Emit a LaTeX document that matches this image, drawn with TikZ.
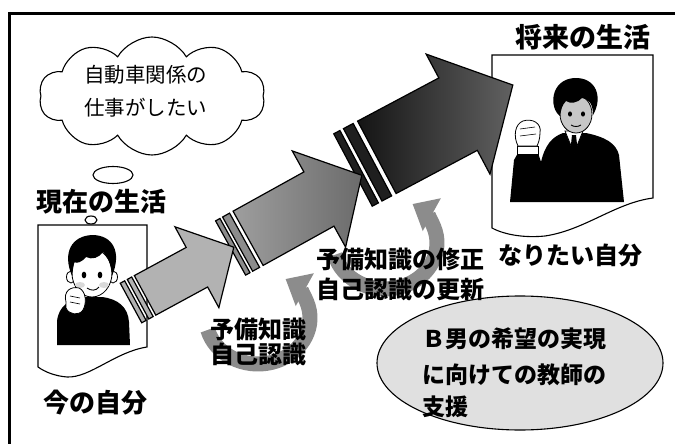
\documentclass[tikz,border=0pt]{standalone}
\usepackage{fontspec}
\newfontfamily\jp{Noto Sans CJK JP}
\usetikzlibrary{shapes.symbols,shapes.geometric,arrows.meta}

\tikzset{
  jpb/.style={font=\jp\bfseries\fontsize{#1}{#1}\selectfont, inner sep=0pt},
  jpr/.style={font=\jp\fontsize{#1}{#1}\selectfont, inner sep=0pt},
  thin line/.style={draw=black, line width=1.1},
  arrowbody/.style={draw=black, line width=1.2, line join=miter},
  band/.style={draw=black, line width=1.2},
  turn/.style={draw=black!45, line width=15, -{Triangle[width=36pt,length=22pt]}},
  picframe/.style={draw=black, fill=white, line width=1.1},
}

\begin{document}
\begin{tikzpicture}[x=1pt,y=-1pt]
\useasboundingbox (0,0) rectangle (675,444);
\fill[white] (0,0) rectangle (675,444);

% outer border (top and left)
\draw[line width=3] (8,13.5) -- (675,13.5);
\draw[line width=3] (9.5,12) -- (9.5,444);

% thought cloud
\node[cloud, thin line, fill=white, cloud puffs=10, cloud puff arc=120,
      cloud ignores aspect, minimum width=226, minimum height=118, inner sep=0pt]
      (cloud) at (152,96) {};
\node[ellipse, thin line, minimum width=40, minimum height=17, inner sep=0pt]
      (bubble) at (113,175) {};
\node[jpr=20.5, anchor=west] (wish1) at (84,75) {自動車関係の};
\node[jpr=20.5, anchor=west] (wish2) at (84,108) {仕事がしたい};

% ---------- present self: picture card ----------
\node[ellipse, thin line, fill=white, minimum width=12, minimum height=8, inner sep=0pt]
      (hook) at (91,220) {};
\path[picframe] (38,225) -- (147,225) -- (147,347)
   .. controls (115,352) and (90,378) .. (67,377)
   .. controls (55,376) and (45,372) .. (38,367) -- cycle;
% boy: uniform
\fill[black] (57,345) -- (57,322) .. controls (58,306) and (70,299) .. (84,297)
   -- (102,297) .. controls (118,299) and (128,307) .. (129,322) -- (130,345) -- cycle;
% ears and face
\filldraw[fill=white, line width=0.8] (71,277) ellipse [x radius=4.5, y radius=6];
\filldraw[fill=white, line width=0.8] (113,277) ellipse [x radius=4.5, y radius=6];
\filldraw[fill=white, line width=0.8] (92,273) ellipse [x radius=20, y radius=24];
\fill[black!15] (80,285) ellipse [x radius=5, y radius=3];
\fill[black!15] (104,285) ellipse [x radius=5, y radius=3];
% hair
\fill[black] (72,276) .. controls (62,252) and (72,236) .. (92,235)
   .. controls (113,235) and (122,252) .. (112,276)
   .. controls (111,264) and (108,257) .. (103,252)
   .. controls (99,258) and (92,260) .. (86,257)
   .. controls (82,262) and (77,264) .. (74,262) -- cycle;
% eyes, mouth
\fill (84,275) ellipse [x radius=2.3, y radius=3.4];
\fill (100,275) ellipse [x radius=2.3, y radius=3.4];
\draw[line width=0.9] (87,288) .. controls (91,291) and (96,291) .. (99,287);
% fist at the chin
\filldraw[fill=white, line width=0.8] (66,302) .. controls (63,291) and (71,286) .. (79,288)
   .. controls (86,291) and (87,303) .. (83,310)
   .. controls (79,316) and (69,315) .. (66,308) -- cycle;
\draw[line width=0.6] (70,296) -- (80,298) (70,302) -- (80,304);

% ---------- future self: picture card ----------
\path[picframe] (492,55) -- (653,55) -- (653,198)
   .. controls (615,203) and (585,230) .. (545,236)
   .. controls (525,238) and (505,235) .. (492,228) -- cycle;
% suit with raised arm
\fill[black] (510,202) -- (514,160) -- (518,153) -- (538,153) -- (541,162)
   .. controls (545,145) and (552,137) .. (563,133) -- (586,133)
   .. controls (605,137) and (616,143) .. (619,155) -- (624,202) -- cycle;
% cuff and fist
\filldraw[fill=white, line width=0.8] (517,146) rectangle (538,154);
\filldraw[fill=white, line width=0.8] (518,146) .. controls (513,136) and (515,124) .. (523,121)
   .. controls (532,118) and (542,123) .. (540,133)
   .. controls (540,139) and (538,144) .. (537,146) -- cycle;
\draw[line width=0.6] (520,129) -- (535,127) (520,136) -- (536,134);
% collar and tie
\filldraw[fill=white, line width=0.8] (565,131) -- (574,153) -- (583,131) -- cycle;
\fill[black] (572,135) -- (576,135) -- (577.5,149) -- (574,154) -- (570.5,149) -- cycle;
% face and hair
\filldraw[fill=black!22, line width=0.8] (576,114) ellipse [x radius=16, y radius=19];
\fill[black] (560,116) .. controls (549,108) and (550,80) .. (574,78)
   .. controls (597,77) and (603,98) .. (593,115)
   .. controls (593,104) and (589,99) .. (582,98)
   .. controls (578,103) and (570,104) .. (566,101)
   .. controls (562,105) and (561,110) .. (560,116) -- cycle;
\fill (570,114) ellipse [x radius=2, y radius=2.6];
\fill (583,114) ellipse [x radius=2, y radius=2.6];
\draw[line width=0.9] (571,125) .. controls (574,127) and (578,127) .. (581,125);

% ---------- teacher support ----------
\node[ellipse, thin line, fill=black!12, minimum width=286, minimum height=134, inner sep=0pt]
      (support) at (520,363) {};

% ---------- turning arrows ----------
\draw[turn] (258,318) ++(165:52 and 46) arc[start angle=165, end angle=-58, x radius=52, y radius=46];
\draw[turn] (385,243) ++(165:52 and 46) arc[start angle=165, end angle=-58, x radius=52, y radius=46];

% ---------- growth arrows ----------
\begin{scope}[shift={(353,170)}, rotate=28]
  \path[arrowbody, left color=black!92, right color=black!62]
    (27,-41) -- (119,-41) -- (119,-68) -- (181,0) -- (119,68) -- (119,41) -- (27,41) -- cycle;
  \path[band, fill=black!88] (0,-41) rectangle (7,41);
  \path[band, fill=black!88] (11,-41) rectangle (22,41);
\end{scope}
\begin{scope}[shift={(230.6,248)}, rotate=29]
  \path[arrowbody, left color=black!38, right color=black!58]
    (20,-31) -- (101,-31) -- (101,-55) -- (150,0) -- (101,55) -- (101,31) -- (20,31) -- cycle;
  \path[band, fill=black!45] (0,-31) rectangle (5,31);
  \path[band, fill=black!45] (8,-31) rectangle (16,31);
\end{scope}
\begin{scope}[shift={(131,303)}, rotate=28.5]
  \path[arrowbody, fill=black!30]
    (16,-22.5) -- (75,-22.5) -- (75,-46) -- (117,0) -- (75,46) -- (75,22.5) -- (16,22.5) -- cycle;
  \path[band, fill=black!30] (0,-22.5) rectangle (5,22.5);
  \path[band, fill=black!30] (8,-22.5) rectangle (13,22.5);
\end{scope}

% ---------- labels ----------
\node[jpb=26] (now) at (101,202) {現在の生活};
\node[jpb=27] (future) at (583,37) {将来の生活};
\node[jpb=26] (me) at (95,403) {今の自分};
\node[jpb=24] (goal) at (570,255) {なりたい自分};
\node[jpb=24] (k1) at (258,329) {予備知識};
\node[jpb=24] (s1) at (258,354) {自己認識};
\node[jpb=24] (k2) at (400,259) {予備知識の修正};
\node[jpb=24] (s2) at (400,289) {自己認識の更新};
\node[jpb=23, anchor=west] (t1) at (422,339) {Ｂ男の希望の実現};
\node[jpb=23, anchor=west] (t2) at (422,375) {に向けての教師の};
\node[jpb=23, anchor=west] (t3) at (422,407) {支援};
\end{tikzpicture}
\end{document}
